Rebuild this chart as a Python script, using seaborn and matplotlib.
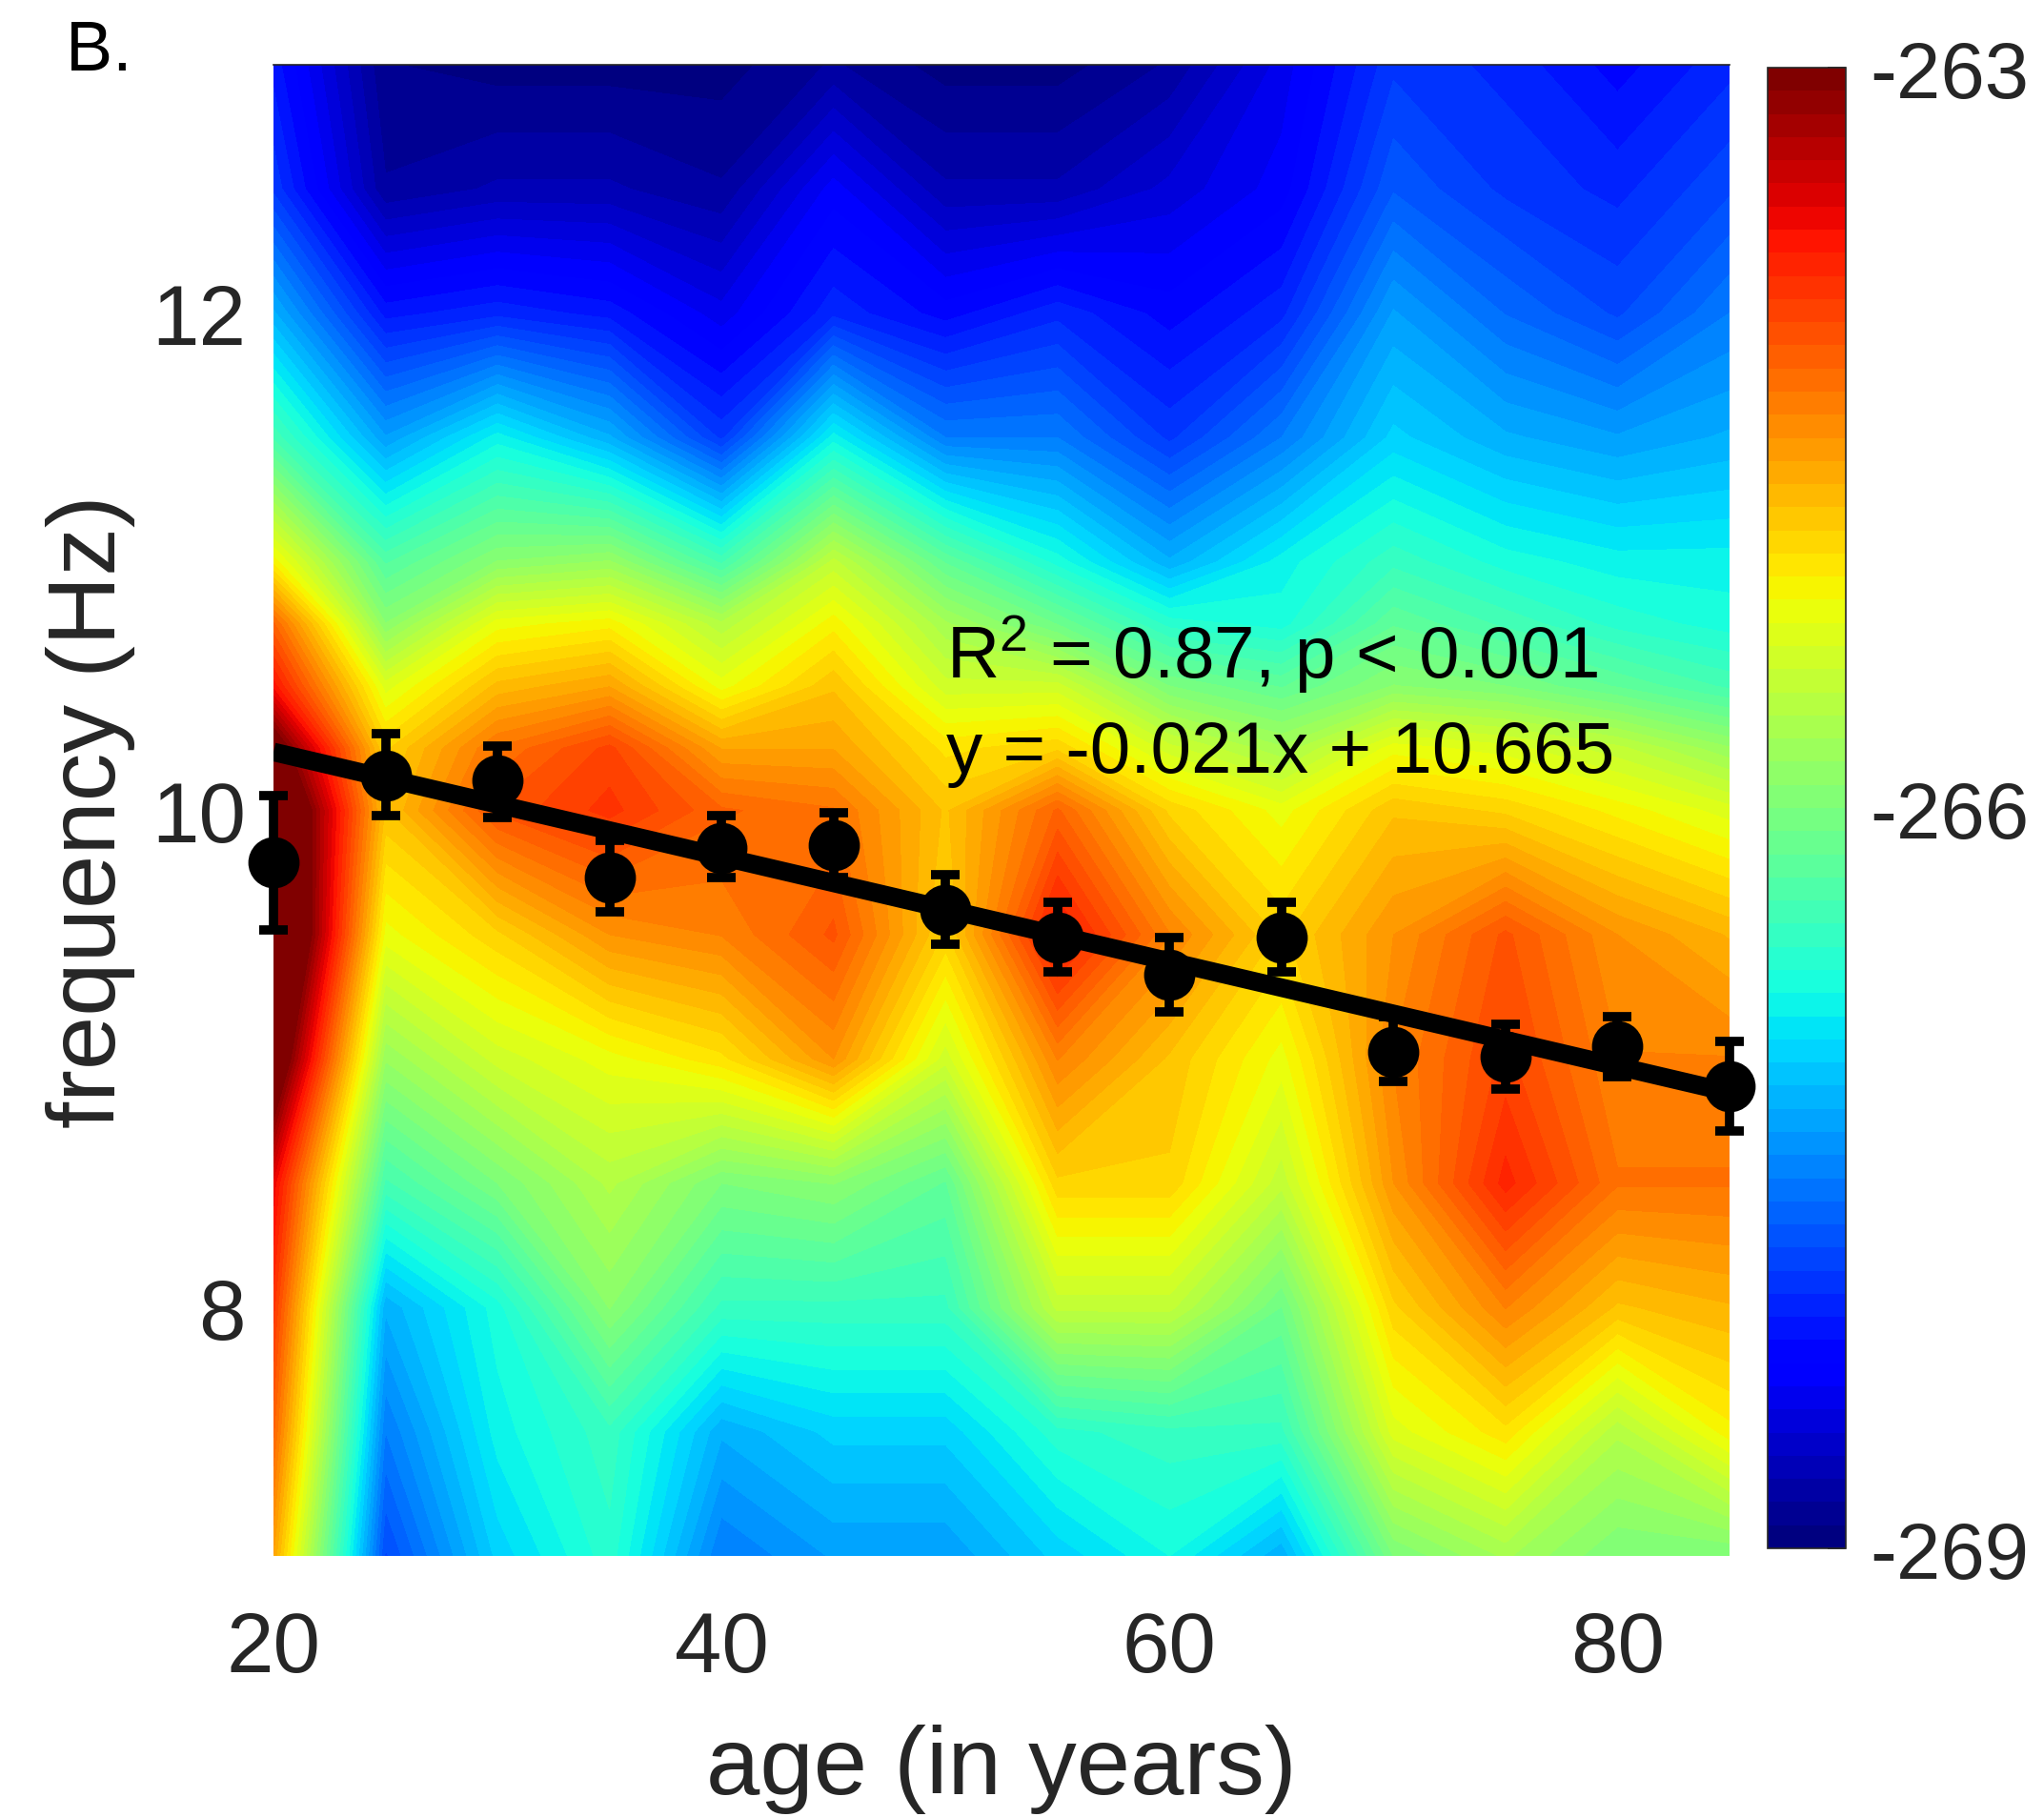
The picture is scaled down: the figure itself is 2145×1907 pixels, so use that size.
import matplotlib
matplotlib.use('Agg')
import matplotlib.pyplot as plt
import seaborn as sns
import numpy as np

# heatmap grid
ages = [20, 25, 30, 35, 40, 45, 50, 55, 60, 65, 70, 75, 80, 85]
freqs = [7, 7.5, 8, 8.5, 9, 9.5, 10, 10.25, 10.5, 10.75, 11, 11.5, 12, 12.5, 13]

# power per frequency row
power_7_0 = [-264.6, -267.8, -267.0, -266.6, -267.5, -267.3, -267.3, -267.0, -266.75, -267.2, -266.0, -265.7, -266.0, -266.0]
power_7_5 = [-264.2, -267.5, -266.8, -266.5, -267.2, -267.0, -267.0, -266.6, -266.5, -266.5, -265.3, -265.0, -265.6, -265.1]
power_8_0 = [-263.9, -267.2, -266.7, -265.9, -266.5, -266.5, -266.5, -265.5, -265.5, -266.1, -264.9, -264.4, -264.8, -264.7]
power_8_5 = [-263.6, -266.4, -266.0, -265.6, -266.0, -265.9, -266.2, -264.9, -264.9, -265.5, -264.5, -263.8, -264.3, -264.3]
power_9_0 = [-262.6, -265.8, -265.4, -265.2, -265.0, -264.5, -265.4, -264.4, -264.8, -265.2, -264.4, -264.0, -264.4, -264.4]
power_9_5 = [-262.0, -265.2, -264.9, -264.5, -264.4, -264.1, -264.9, -263.7, -264.4, -264.9, -264.5, -264.1, -264.5, -264.7]
power_10_0 = [-262.2, -264.8, -264.1, -263.9, -264.2, -264.3, -264.8, -264.2, -264.9, -265.2, -264.8, -264.9, -265.1, -265.3]
power_10_25 = [-262.8, -264.9, -264.3, -264.0, -264.6, -264.6, -265.0, -264.9, -265.4, -265.7, -265.2, -265.3, -265.5, -265.8]
power_10_5 = [-263.7, -265.3, -264.75, -264.6, -265.2, -264.8, -265.4, -265.4, -266.0, -266.2, -265.9, -266.0, -266.2, -266.4]
power_10_75 = [-264.2, -265.9, -265.2, -265.1, -265.6, -265.1, -265.7, -266.1, -266.6, -266.7, -266.2, -266.4, -266.6, -266.7]
power_11_0 = [-265.1, -266.3, -265.9, -265.8, -266.4, -265.5, -266.2, -266.7, -267.2, -266.8, -266.5, -266.7, -266.8, -266.8]
power_11_5 = [-266.4, -267.3, -266.8, -267.2, -267.9, -266.8, -267.5, -267.5, -267.9, -267.5, -267.0, -267.2, -267.3, -267.2]
power_12_0 = [-267.2, -268.1, -268.0, -268.1, -268.4, -268.0, -268.2, -268.0, -268.2, -268.0, -267.3, -267.6, -267.8, -267.5]
power_12_5 = [-267.9, -268.8, -268.7, -268.7, -268.8, -268.3, -268.7, -268.7, -268.5, -268.3, -267.7, -267.9, -268.0, -267.8]
power_13_0 = [-268.1, -268.9, -268.95, -268.95, -268.95, -268.8, -268.95, -268.95, -268.8, -268.4, -267.9, -268.0, -268.2, -268.0]

# peak frequency per age group
peak_freq = [9.79, 10.14, 10.12, 9.73, 9.85, 9.86, 9.60, 9.49, 9.34, 9.49, 9.03, 9.01, 9.05, 8.89]
peak_low = [9.52, 9.98, 9.97, 9.59, 9.73, 9.73, 9.46, 9.35, 9.19, 9.35, 8.91, 8.88, 8.93, 8.71]
peak_high = [10.06, 10.31, 10.26, 9.88, 9.98, 9.99, 9.74, 9.63, 9.49, 9.63, 9.17, 9.14, 9.17, 9.07]

# regression line ends
fit_ages = [20, 85]
fit_freqs = [10.235, 8.865]

sns.set_theme(style='white')
plt.rcParams['font.family'] = ['Liberation Sans', 'DejaVu Sans']
plt.rcParams['mathtext.default'] = 'regular'

TEXT_COLOR = '#262626'
W, H = 2145, 1908

fig = plt.figure(figsize=(W / 100, H / 100), dpi=100)
ax = fig.add_axes([287 / W, 1 - 1634 / H, (1815 - 287) / W, (1634 - 69) / H])

power = np.array([
    power_7_0, power_7_5, power_8_0, power_8_5, power_9_0, power_9_5, power_10_0,
    power_10_25, power_10_5, power_10_75, power_11_0, power_11_5, power_12_0,
    power_12_5, power_13_0,
])

# MATLAB style jet with 64 steps
cmap = plt.get_cmap('jet', 64)
levels = np.linspace(-269, -263, 65)
mesh = ax.contourf(ages, freqs, power, levels=levels, cmap=cmap, extend='both')

sns.lineplot(x=fit_ages, y=fit_freqs, color='black', linewidth=14, ax=ax, zorder=3,
             solid_capstyle='butt')

# error bars
lower = np.array(peak_freq) - np.array(peak_low)
upper = np.array(peak_high) - np.array(peak_freq)
bars = ax.errorbar(ages, peak_freq, yerr=[lower, upper], fmt='none', ecolor='black',
                   elinewidth=7, capsize=11, capthick=7, zorder=4)
for part in bars.lines[1] + bars.lines[2]:
    part.set_clip_on(False)

sns.scatterplot(x=ages, y=peak_freq, color='black', s=1500, linewidth=0, ax=ax,
                zorder=5, clip_on=False)

ax.set_xlim(20, 85)
ax.set_ylim(7, 13)
ax.set_xticks([20, 40, 60, 80])
ax.set_yticks([8, 10, 12])
ax.tick_params(length=0, labelsize=64, labelcolor=TEXT_COLOR)
ax.tick_params(axis='x', pad=40)
ax.tick_params(axis='y', pad=21)
ax.set_xlabel('age (in years)', fontsize=73, color=TEXT_COLOR, labelpad=26)
ax.set_ylabel('frequency (Hz)', fontsize=73, color=TEXT_COLOR, labelpad=12)
for side in ['left', 'right', 'bottom']:
    ax.spines[side].set_visible(False)
ax.spines['top'].set_linewidth(1.2)
ax.spines['top'].set_color(TEXT_COLOR)

ax.text(50.05, 10.63, 'R$^{2}$ = 0.87, p < 0.001', fontsize=55, color='black',
        ha='left', va='center')
ax.text(50.05, 10.23, 'y = -0.021x + 10.665', fontsize=55, color='black',
        ha='left', va='center')

# colorbar
cax = fig.add_axes([1855 / W, 1 - 1626 / H, (1937 - 1855) / W, (1626 - 72) / H])
sm = plt.cm.ScalarMappable(norm=plt.Normalize(-269, -263), cmap=cmap)
cbar = fig.colorbar(sm, cax=cax, ticks=[-269, -266, -263])
cbar.ax.set_yticklabels(['-269', '-266', '-263'])
cbar.ax.tick_params(direction='in', length=14, width=1.2, color=TEXT_COLOR,
                    labelsize=60, labelcolor=TEXT_COLOR, pad=18)
cbar.outline.set_edgecolor(TEXT_COLOR)
cbar.outline.set_linewidth(1.2)

fig.text(69 / W, 1 - 54 / H, 'B.', fontsize=53, color='black', ha='left', va='center')

fig.savefig('out.png', dpi=100)
